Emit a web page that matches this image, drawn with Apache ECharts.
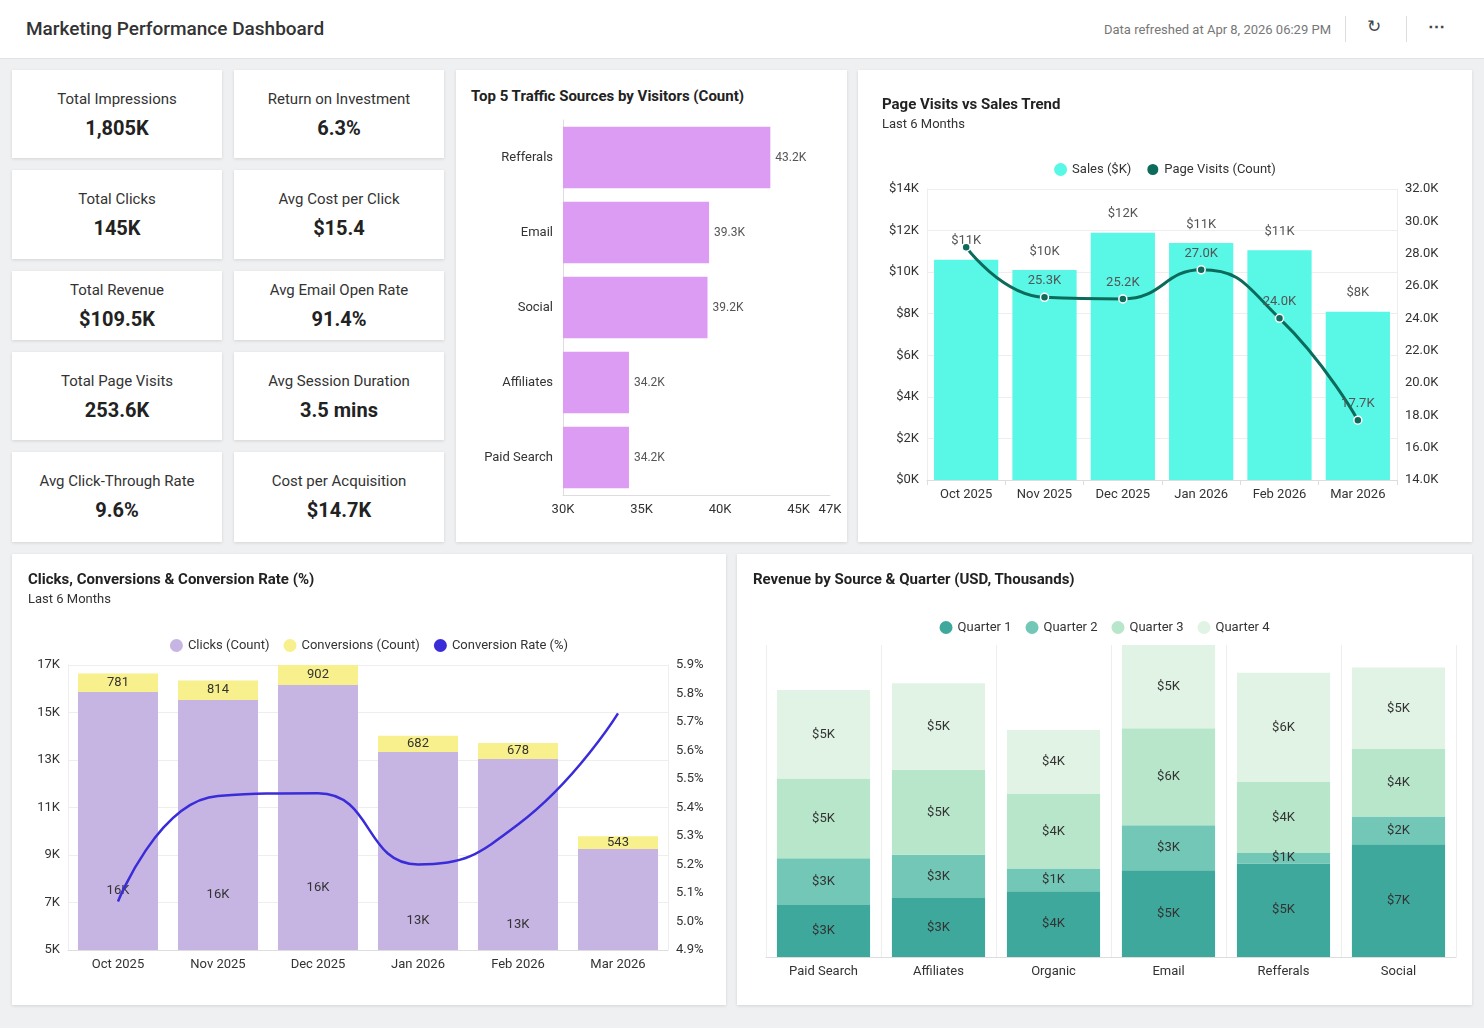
<!DOCTYPE html>
<html lang="en">
<head>
<meta charset="UTF-8" />
<title>Marketing Performance Dashboard</title>
<script src="https://cdn.jsdelivr.net/npm/echarts@6/dist/echarts.min.js"></script>
<style>
  body { margin: 0; width: 1484px; height: 1028px; background: #eef0f2; font-family: Roboto, "Noto Sans", sans-serif; color: #222; overflow: hidden; }
  .header { position: absolute; left: 0; top: 0; width: 1484px; height: 58px; background: #fff; border-bottom: 1px solid #e2e2e2; }
  .header .title { position: absolute; left: 26px; top: 17px; font-size: 19px; font-weight: 500; color: #333; }
  .header .refresh { position: absolute; right: 153px; top: 22px; font-size: 13px; color: #777; }
  .header .sep { position: absolute; top: 16px; width: 1px; height: 26px; background: #ddd; }
  .header .icon { position: absolute; top: 16px; font-size: 17px; color: #444; }
  .card { position: absolute; background: #fff; box-shadow: 0 1px 3px rgba(0,0,0,0.12); }
  .kpi { text-align: center; }
  .kpi .lbl { font-size: 15px; color: #333; margin-top: 20px; }
  .kpi .val { font-size: 20px; font-weight: 700; color: #222; margin-top: 8px; }
  .ptitle { position: absolute; font-size: 15px; font-weight: 700; color: #222; }
  .psub { position: absolute; font-size: 13px; color: #333; }
  .chart { position: absolute; left: 0; top: 0; width: 100%; height: 100%; }
</style>
</head>
<body>
<div class="header">
  <div class="title">Marketing Performance Dashboard</div>
  <div class="refresh">Data refreshed at Apr 8, 2026 06:29 PM</div>
  <div class="sep" style="left:1345px"></div>
  <div class="icon" style="left:1367px">&#x21bb;</div>
  <div class="sep" style="left:1406px"></div>
  <div class="icon" style="left:1428px;font-weight:700">&#x22ef;</div>
</div>
<div id="kpis"></div>

<div class="card" style="left:456px;top:70px;width:391px;height:472px">
  <div class="ptitle" style="left:15px;top:17px">Top 5 Traffic Sources by Visitors (Count)</div>
  <div id="traffic" class="chart"></div>
</div>
<div class="card" style="left:858px;top:70px;width:614px;height:472px">
  <div id="visits" class="chart"></div>
  <div class="ptitle" style="left:24px;top:25px">Page Visits vs Sales Trend</div>
  <div class="psub" style="left:24px;top:46px">Last 6 Months</div>
</div>
<div class="card" style="left:12px;top:554px;width:714px;height:451px">
  <div id="clicks" class="chart"></div>
  <div class="ptitle" style="left:16px;top:16px">Clicks, Conversions &amp; Conversion Rate (%)</div>
  <div class="psub" style="left:16px;top:37px">Last 6 Months</div>
</div>
<div class="card" style="left:737px;top:554px;width:735px;height:451px">
  <div id="revenue" class="chart"></div>
  <div class="ptitle" style="left:16px;top:16px">Revenue by Source &amp; Quarter (USD, Thousands)</div>
</div>

<script>
// KPI cards
const kpiLabels = ["Total Impressions", "Return on Investment", "Total Clicks", "Avg Cost per Click", "Total Revenue", "Avg Email Open Rate", "Total Page Visits", "Avg Session Duration", "Avg Click-Through Rate", "Cost per Acquisition"];
const kpiValues = ["1,805K", "6.3%", "145K", "$15.4", "$109.5K", "91.4%", "253.6K", "3.5 mins", "9.6%", "$14.7K"];
const kpiRows = [[70, 88], [170, 89], [271, 69], [352, 88], [452, 90]];

// traffic sources
const sources = ["Refferals", "Email", "Social", "Affiliates", "Paid Search"];
const visitors = [43200, 39300, 39200, 34200, 34200];

// page visits vs sales
const months = ["Oct 2025", "Nov 2025", "Dec 2025", "Jan 2026", "Feb 2026", "Mar 2026"];
const sales = [10.6, 10.1, 11.9, 11.4, 11.05, 8.1];
const pageVisits = [28.4, 25.3, 25.2, 27.0, 24.0, 17.7];

// clicks & conversions
const clicks = [15860, 15530, 16160, 13340, 13040, 9250];
const conversions = [781, 814, 902, 682, 678, 543];
const convRate = [5.07, 5.44, 5.45, 5.2, 5.34, 5.73];

// revenue by source & quarter
const revSources = ["Paid Search", "Affiliates", "Organic", "Email", "Refferals", "Social"];
const q1 = [3.0, 3.4, 3.8, 5.0, 5.4, 6.5];
const q2 = [2.7, 2.5, 1.3, 2.6, 0.6, 1.6];
const q3 = [4.6, 4.9, 4.3, 5.6, 4.1, 3.9];
const q4 = [5.1, 5.0, 3.7, 4.8, 6.3, 4.7];

const kpiBox = document.getElementById("kpis");
kpiLabels.forEach((l, i) => {
  const r = kpiRows[Math.floor(i / 2)];
  const d = document.createElement("div");
  d.className = "card kpi";
  d.style.cssText = `left:${i % 2 ? 234 : 12}px;top:${r[0]}px;width:210px;height:${r[1]}px`;
  const pad = r[1] < 80 ? 10 : 20;
  d.innerHTML = `<div class="lbl" style="margin-top:${pad}px">${l}</div><div class="val">${kpiValues[i]}</div>`;
  kpiBox.appendChild(d);
});

const txt = { fontFamily: "Roboto", color: "#333", fontSize: 13 };
const kFmt = v => Math.round(v / 1000) + "K";

// Top 5 traffic
echarts.init(document.getElementById("traffic")).setOption({
  textStyle: txt,
  grid: { left: 107, right: 17, top: 50, bottom: 47 },
  xAxis: {
    type: "value", min: 30000, max: 47000, interval: 5000,
    axisLabel: { formatter: kFmt, color: "#333", fontSize: 13 },
    splitLine: { show: false },
    axisLine: { show: true, lineStyle: { color: "#ddd" } }
  },
  yAxis: {
    type: "category", data: sources, inverse: true,
    axisTick: { show: false }, axisLine: { lineStyle: { color: "#ddd" } },
    axisLabel: { color: "#333", fontSize: 13, margin: 10 }
  },
  series: [{
    type: "bar", data: visitors, barCategoryGap: "18%",
    itemStyle: { color: "#dc9cf3" },
    label: { show: true, position: "right", color: "#555", fontSize: 12, formatter: p => (p.value / 1000).toFixed(1) + "K" }
  }]
});

// Page visits vs sales
echarts.init(document.getElementById("visits")).setOption({
  textStyle: txt,
  legend: { top: 87, left: "center", itemWidth: 13, itemHeight: 13, itemGap: 14, textStyle: { fontSize: 13, color: "#333" },
    data: [{ name: "Sales ($K)", icon: "circle" }, { name: "Page Visits (Count)", icon: "circle" }] },
  grid: { left: 69, right: 75, top: 119, bottom: 62 },
  xAxis: { type: "category", data: months, axisTick: { show: true, alignWithLabel: false }, axisLine: { lineStyle: { color: "#ddd" } },
    axisLabel: { color: "#333", fontSize: 13 } },
  yAxis: [
    { type: "value", min: 0, max: 14, interval: 2, axisLabel: { formatter: v => "$" + v + "K", color: "#333", fontSize: 13 },
      splitLine: { lineStyle: { color: "#eee" } }, axisLine: { show: true, lineStyle: { color: "#eee" } } },
    { type: "value", min: 14, max: 32, interval: 2, axisLabel: { formatter: v => v.toFixed(1) + "K", color: "#333", fontSize: 13 },
      splitLine: { show: false }, axisLine: { show: true, lineStyle: { color: "#eee" } } }
  ],
  series: [
    { name: "Sales ($K)", type: "bar", data: sales, barCategoryGap: "18%", itemStyle: { color: "#58f7e6" },
      label: { show: true, position: "top", distance: 12, color: "#555", fontSize: 13, formatter: p => "$" + Math.round(p.value) + "K" } },
    { name: "Page Visits (Count)", type: "line", yAxisIndex: 1, data: pageVisits, smooth: true, symbol: "circle", symbolSize: 8,
      lineStyle: { color: "#0c6b5b", width: 3 }, itemStyle: { color: "#0c6b5b", borderColor: "#fff", borderWidth: 1.5 },
      label: { show: true, position: "top", color: "#555", fontSize: 13, formatter: p => p.dataIndex === 0 ? "" : p.value.toFixed(1) + "K" } }
  ]
});

// Clicks, conversions & rate
echarts.init(document.getElementById("clicks")).setOption({
  textStyle: txt,
  legend: { top: 80, left: "center", itemWidth: 13, itemHeight: 13, itemGap: 14, textStyle: { fontSize: 13, color: "#333" },
    data: [{ name: "Clicks (Count)", icon: "circle" }, { name: "Conversions (Count)", icon: "circle" }, { name: "Conversion Rate (%)", icon: "circle" }] },
  grid: { left: 56, right: 58, top: 111, bottom: 55 },
  xAxis: { type: "category", data: months, axisLine: { lineStyle: { color: "#ddd" } }, axisLabel: { color: "#333", fontSize: 13 } },
  yAxis: [
    { type: "value", min: 5000, max: 17000, interval: 2000, axisLabel: { formatter: kFmt, color: "#333", fontSize: 13 },
      splitLine: { lineStyle: { color: "#eee" } }, axisLine: { show: true, lineStyle: { color: "#eee" } } },
    { type: "value", min: 4.9, max: 5.9, interval: 0.1, axisLabel: { formatter: v => v.toFixed(1) + "%", color: "#333", fontSize: 13 },
      splitLine: { show: false }, axisLine: { show: true, lineStyle: { color: "#eee" } } }
  ],
  series: [
    { name: "Clicks (Count)", type: "bar", stack: "c", data: clicks.map((v, i) => i === 5 ? { value: v, label: { show: false } } : v),
      barCategoryGap: "20%", itemStyle: { color: "#c6b4e3" },
      label: { show: true, position: "inside", color: "#333", fontSize: 13, offset: [0, 70], formatter: p => kFmt(p.value) } },
    { name: "Conversions (Count)", type: "bar", stack: "c", data: conversions, itemStyle: { color: "#f8f08c" },
      label: { show: true, position: "inside", color: "#333", fontSize: 13 } },
    { name: "Conversion Rate (%)", type: "line", yAxisIndex: 1, data: convRate, smooth: true, symbol: "none",
      lineStyle: { color: "#3a2cd8", width: 2.5 }, itemStyle: { color: "#3a2cd8" },
      label: { show: true, position: "top", color: "#333", fontSize: 13, formatter: p => p.value.toFixed(1) + "%" } }
  ]
});

// Revenue by source & quarter
const revMax = Math.max(...revSources.map((_, i) => q1[i] + q2[i] + q3[i] + q4[i]));
const quarterColors = ["#3fa89c", "#73c7b6", "#b8e6cb", "#e0f3e4"];
const revLabel = { show: true, position: "inside", color: "#333", fontSize: 13, formatter: p => "$" + Math.round(p.value) + "K" };
echarts.init(document.getElementById("revenue")).setOption({
  textStyle: txt,
  legend: { top: 62, left: "center", itemWidth: 13, itemHeight: 13, itemGap: 14, textStyle: { fontSize: 13, color: "#333" }, icon: "circle" },
  grid: { left: 29, right: 16, top: 91, bottom: 48 },
  xAxis: { type: "category", data: revSources, axisLine: { lineStyle: { color: "#ddd" } }, axisTick: { lineStyle: { color: "#ddd" } },
    splitLine: { show: true, lineStyle: { color: "#eee" } }, axisLabel: { color: "#333", fontSize: 13 } },
  yAxis: { type: "value", min: 0, max: revMax, show: false },
  series: [q1, q2, q3, q4].map((d, i) => ({
    name: "Quarter " + (i + 1), type: "bar", stack: "rev", data: d, barCategoryGap: "19%",
    itemStyle: { color: quarterColors[i] }, label: revLabel
  }))
});
</script>
</body>
</html>
